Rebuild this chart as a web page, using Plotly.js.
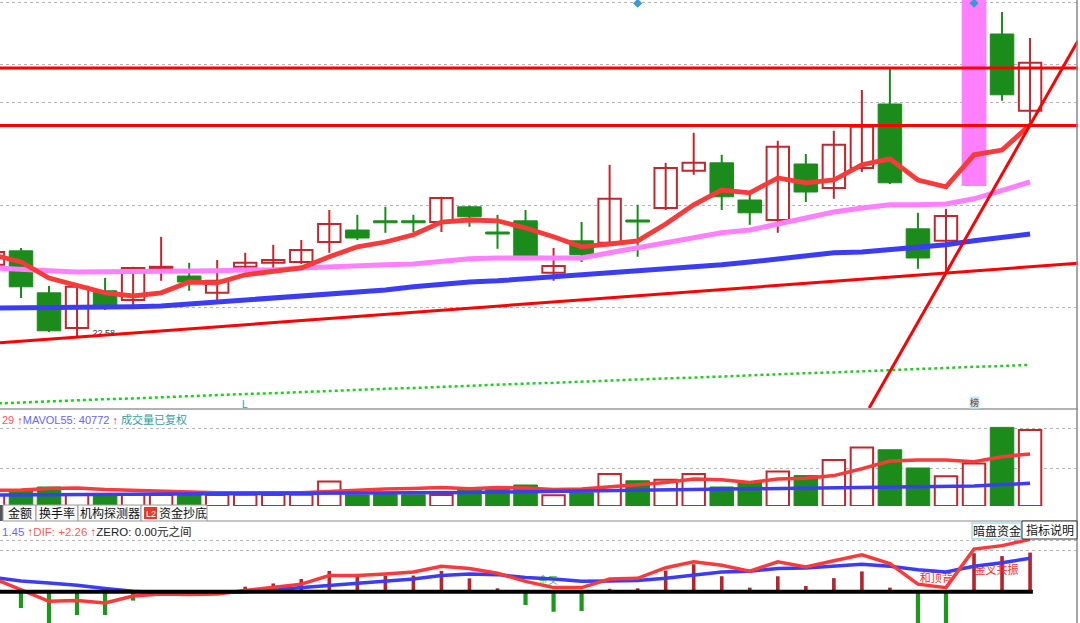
<!DOCTYPE html>
<html><head><meta charset="utf-8">
<script src="https://cdn.plot.ly/plotly-3.0.1.min.js"></script>
<style>html,body{margin:0;padding:0;background:#fff;overflow:hidden}#chart{width:1080px;height:623px}</style>
</head><body><div id="chart"></div>
<script>
// ---- candle index (first one is partly cut off on the left) ----
const idx = [-1,0,1,2,3,4,5,6,7,8,9,10,11,12,13,14,15,16,17,18,19,20,21,22,23,24,25,26,27,28,29,30,31,32,33,34,35,36];
const openP  = [24.38,24.73,23.68,22.80,23.73,23.50,24.28,24.10,23.68,24.33,24.43,24.45,24.95,25.25,25.48,25.48,25.45,25.83,25.20,25.48,24.18,24.98,24.93,25.50,25.80,26.73,26.93,26.00,25.50,26.90,26.30,26.80,28.40,25.28,24.98,26.35,30.15,28.23];
const closeP = [24.70,23.83,22.73,23.83,23.30,24.30,24.33,23.95,23.98,24.43,24.50,24.75,25.40,25.05,25.43,25.43,26.05,25.58,25.15,24.60,24.35,24.63,26.03,25.45,26.80,26.93,26.08,25.68,27.33,26.20,27.38,27.83,26.43,24.55,25.60,31.20,28.63,29.43];
const highP  = [24.80,24.80,23.85,23.85,24.05,24.33,25.08,24.43,24.50,24.68,24.88,25.00,25.75,25.63,25.83,25.63,26.08,25.85,25.63,25.75,24.80,25.45,26.88,25.88,26.93,27.68,27.13,26.13,27.48,27.15,27.73,28.75,29.30,25.68,25.78,31.20,30.70,30.05];
const lowP   = [24.30,23.55,22.70,22.58,23.25,23.35,23.98,23.73,23.45,24.20,24.20,24.40,24.68,25.00,25.18,25.20,25.20,25.33,24.78,24.55,23.98,24.45,24.88,24.58,25.75,26.63,25.75,25.38,25.18,25.95,26.03,26.70,26.40,24.28,24.18,26.35,28.48,27.88];
const limitUpIdx = [34];
const signalIdx = [22, 34];

const ma5   = [24.63,24.45,24.05,23.85,23.68,23.60,23.68,23.95,23.93,24.13,24.20,24.30,24.58,24.83,24.95,25.13,25.45,25.50,25.48,25.30,25.08,24.83,24.90,24.98,25.40,25.88,26.25,26.18,26.55,26.43,26.50,26.88,27.03,26.50,26.33,27.13,27.25,27.88];
const ma10  = [24.30,24.28,24.23,24.20,24.20,24.20,24.23,24.23,24.23,24.25,24.25,24.30,24.33,24.38,24.38,24.40,24.48,24.53,24.55,24.55,24.55,24.55,24.68,24.80,24.93,25.05,25.18,25.25,25.40,25.55,25.70,25.80,25.88,25.88,25.90,26.03,26.25,26.45];
const ma30  = [23.30,23.30,23.30,23.30,23.30,23.33,23.35,23.40,23.45,23.48,23.55,23.60,23.65,23.70,23.75,23.83,23.90,23.95,23.98,24.03,24.08,24.10,24.15,24.20,24.25,24.30,24.38,24.45,24.53,24.60,24.68,24.70,24.75,24.80,24.88,24.98,25.05,25.15];
const ma250 = [20.91,20.94,20.96,20.99,21.02,21.04,21.07,21.09,21.12,21.15,21.17,21.20,21.22,21.25,21.28,21.30,21.33,21.36,21.38,21.41,21.43,21.46,21.49,21.51,21.54,21.56,21.59,21.62,21.64,21.67,21.69,21.72,21.75,21.77,21.80,21.83,21.85,21.88];

// drawn lines (price levels and trend lines)
const levels = [29.30, 27.86];
const trendX = [-0.75, 37.71], trendY = [22.43, 24.42];
const steepX = [30.26, 37.71], steepY = [20.80, 29.98];
const lowLabel = '22.58';

// ---- volume ----
const volume  = [19800,28800,34200,20500,19800,20200,19600,20400,19900,20100,19700,20300,44300,19900,20600,20200,19800,33100,33100,37800,19400,23800,57800,45400,47300,57800,34200,42300,62100,54700,82600,105500,101200,68400,53500,76500,141500,136600];
const mavol5  = [27900,28800,31500,32400,29700,27900,27000,25200,23760,23760,23760,23760,26100,28800,30600,31500,33120,31140,33120,32400,29880,30600,34200,37800,42300,48600,47340,42300,48600,49860,54720,67140,80820,82620,82620,79560,88740,93729];
const mavol55 = [19800,20000,20300,20500,20700,20700,20900,21100,21200,21400,21600,21800,22100,22500,22900,23400,23900,24500,25100,25700,26300,27000,27600,28100,28600,29200,29800,30300,30900,31500,32200,32900,33500,34200,35000,36200,38500,40772];

// ---- MACD ----
const dif  = [0.58,0.08,-0.41,-0.38,-0.48,-0.18,-0.09,-0.12,-0.09,0.06,0.18,0.33,0.70,0.70,0.77,0.85,1.10,1.00,0.80,0.45,0.18,0.18,0.55,0.58,1.04,1.29,1.14,0.89,1.29,1.07,1.34,1.59,1.22,0.33,0.18,1.84,1.99,2.26];
const dea  = [0.62,0.47,0.38,0.28,0.14,0.02,-0.04,-0.06,-0.03,0.00,0.09,0.18,0.25,0.36,0.45,0.55,0.70,0.77,0.74,0.62,0.55,0.45,0.47,0.49,0.58,0.70,0.85,0.89,1.00,1.03,1.10,1.19,1.10,0.95,0.85,1.10,1.25,1.45];
const macd = [null,-0.70,-1.38,-1.00,-1.00,-0.38,-0.05,-0.08,-0.05,0.22,0.36,0.55,0.90,0.77,0.70,0.70,0.90,0.58,0.15,-0.57,-0.86,-0.83,0.13,0.15,0.92,1.19,0.67,0.18,0.67,0.25,0.59,0.88,0.18,-1.45,-1.45,1.66,1.54,1.69];

const tabs = ['金额','换手率','机构探测器','资金抄底'];

// ---------------------------------------------------------------
const RED = '#c1272d', GREEN = '#1b8c1b', PINK = '#ff80ff';
const FONT = 'Liberation Sans, Noto Sans CJK SC, sans-serif';
const isLimit = idx.map(i => limitUpIdx.includes(i));
const isUp = idx.map((_, k) => closeP[k] >= openP[k]);
const sel = (arr, f) => arr.map((v, k) => f(k) ? v : null);
const bodyBase = idx.map((_, k) => Math.min(openP[k], closeP[k]));
const bodyH = idx.map((_, k) => Math.max(Math.abs(closeP[k] - openP[k]), 0.04));
function wicks(f) {
  const x = [], y = [];
  idx.forEach((i, k) => { if (f(k)) { x.push(i, i, null); y.push(highP[k], lowP[k], null); } });
  return {x, y};
}
const wR = wicks(k => isUp[k] && !isLimit[k]);
const wG = wicks(k => !isUp[k] && !isLimit[k]);
const nohover = {hoverinfo: 'skip', showlegend: false};

const traces = [
  // main panel
  Object.assign({type:'scatter', mode:'lines', x: idx, y: ma250, line:{color:'#22cc22', width:2.5, dash:'dot'}}, nohover),
  Object.assign({type:'scatter', mode:'text', x:[2.95], y:[22.66], text:[lowLabel], textfont:{size:9, color:'#333', family:FONT}}, nohover),
  Object.assign({type:'scatter', mode:'lines', x: wR.x, y: wR.y, line:{color:RED, width:2}}, nohover),
  Object.assign({type:'scatter', mode:'lines', x: wG.x, y: wG.y, line:{color:GREEN, width:2}}, nohover),
  Object.assign({type:'bar', x: idx, base: sel(bodyBase, k => isUp[k] && !isLimit[k]), y: sel(bodyH, k => isUp[k] && !isLimit[k]), width:0.8,
    marker:{color:'#ffffff', line:{color:RED, width:2}}}, nohover),
  Object.assign({type:'bar', x: idx, base: sel(bodyBase, k => !isUp[k]), y: sel(bodyH, k => !isUp[k]), width:0.84,
    marker:{color:GREEN, line:{color:GREEN, width:1}}}, nohover),
  Object.assign({type:'bar', x: idx, base: sel(bodyBase, k => isLimit[k]), y: sel(bodyH, k => isLimit[k]), width:0.88,
    marker:{color:PINK, line:{color:PINK, width:0}}}, nohover),
  Object.assign({type:'scatter', mode:'lines', x: idx, y: ma30, line:{color:'#3c3cf5', width:5}}, nohover),
  Object.assign({type:'scatter', mode:'lines', x: idx, y: ma10, line:{color:PINK, width:5}}, nohover),
  Object.assign({type:'scatter', mode:'lines', x: idx, y: ma5, line:{color:'#f83a3a', width:4.8}}, nohover),
  Object.assign({type:'scatter', mode:'lines', x: trendX, y: trendY, line:{color:'#ff0000', width:3}}, nohover),
  Object.assign({type:'scatter', mode:'lines', x: steepX, y: steepY, line:{color:'#ff0000', width:3}}, nohover),
  Object.assign({type:'scatter', mode:'lines', x: [-0.75, 37.71], y: [levels[0], levels[0]], line:{color:'#ff0000', width:3}}, nohover),
  Object.assign({type:'scatter', mode:'lines', x: [-0.75, 37.71], y: [levels[1], levels[1]], line:{color:'#ff0000', width:3}}, nohover),
  Object.assign({type:'scatter', mode:'markers', x: signalIdx, y: signalIdx.map(() => 30.92), marker:{symbol:'diamond', size:7, color:'#3a9ad9'}}, nohover),
  // volume panel
  Object.assign({type:'bar', x: idx, y: sel(volume, k => isUp[k]), yaxis:'y2', width:0.8,
    marker:{color:'#ffffff', line:{color:RED, width:2}}}, nohover),
  Object.assign({type:'bar', x: idx, y: sel(volume, k => !isUp[k]), yaxis:'y2', width:0.84,
    marker:{color:GREEN, line:{color:GREEN, width:1}}}, nohover),
  Object.assign({type:'scatter', mode:'lines', x: idx, y: mavol5, yaxis:'y2', line:{color:'#f83a3a', width:3.5}}, nohover),
  Object.assign({type:'scatter', mode:'lines', x: idx, y: mavol55, yaxis:'y2', line:{color:'#3c3cf5', width:3.5}}, nohover),
  // MACD panel
  Object.assign({type:'bar', x: idx, y: macd.map(v => v !== null && v >= 0 ? v : null), yaxis:'y3', width:0.13,
    marker:{color:'#b8242c', line:{width:0}}}, nohover),
  Object.assign({type:'bar', x: idx, y: macd.map(v => v !== null && v < 0 ? v : null), yaxis:'y3', width:0.15,
    marker:{color:'#1a9a1a', line:{width:0}}}, nohover),
  Object.assign({type:'scatter', mode:'text', x:[32.65, 34.8], y:[0.55, 0.90], text:['和顶背','金叉共振'], yaxis:'y3',
    textfont:{size:11, color:'#ff2a2a', family:FONT}}, nohover),
  Object.assign({type:'scatter', mode:'text', x:[18.8], y:[0.45], text:['金叉'], yaxis:'y3',
    textfont:{size:10, color:'#3ccc3c', family:FONT}}, nohover),
  Object.assign({type:'scatter', mode:'lines', x: idx, y: dea, yaxis:'y3', line:{color:'#3c3cf5', width:3.5}}, nohover),
  Object.assign({type:'scatter', mode:'lines', x: idx, y: dif, yaxis:'y3', line:{color:'#f83a3a', width:3.5}}, nohover)
];

const H = 623, W = 1078;
const py = p => 1 - p / H;   // pixel row -> paper y
const px = p => p / W;       // pixel column -> paper x

const shapes = [
  {type:'line', xref:'x', yref:'y3', x0:-0.75, x1:36.1, y0:0, y1:0, line:{color:'#000', width:4}, layer:'above'},
  {type:'line', xref:'paper', yref:'paper', x0:0, x1:1, y0:py(409), y1:py(409), line:{color:'#9a9a9a', width:1.5}},
  {type:'line', xref:'paper', yref:'paper', x0:px(1077), x1:px(1077), y0:py(623), y1:1, line:{color:'#8a8a8a', width:1.5}},
  {type:'line', xref:'paper', yref:'paper', x0:px(207), x1:1, y0:py(521), y1:py(521), line:{color:'#8a8a8a', width:1}},
  {type:'rect', xref:'paper', yref:'paper', x0:0, x1:px(3), y0:py(521), y1:py(505), fillcolor:'#555', line:{width:0}},
  {type:'rect', xref:'paper', yref:'paper', x0:px(3), x1:px(36), y0:py(521), y1:py(505), fillcolor:'#f8f8f8', line:{color:'#9a9a9a', width:1}},
  {type:'rect', xref:'paper', yref:'paper', x0:px(36), x1:px(78), y0:py(521), y1:py(505), fillcolor:'#f8f8f8', line:{color:'#9a9a9a', width:1}},
  {type:'rect', xref:'paper', yref:'paper', x0:px(78), x1:px(141), y0:py(521), y1:py(505), fillcolor:'#f8f8f8', line:{color:'#9a9a9a', width:1}},
  {type:'rect', xref:'paper', yref:'paper', x0:px(141), x1:px(207), y0:py(521), y1:py(505), fillcolor:'#f8f8f8', line:{color:'#9a9a9a', width:1}},
  {type:'rect', xref:'paper', yref:'paper', x0:px(144), x1:px(157), y0:py(519), y1:py(507), fillcolor:'#e8392f', line:{width:0}},
  {type:'rect', xref:'paper', yref:'paper', x0:px(972), x1:px(1021), y0:py(539), y1:py(523), fillcolor:'#fff', line:{color:'#a6e0ea', width:1.5}},
  {type:'rect', xref:'paper', yref:'paper', x0:px(1022), x1:px(1077), y0:py(539), y1:py(521), fillcolor:'#fff', line:{color:'#333', width:1}}
];

const ann = (x, y, text, size, color, xanchor) => ({xref:'paper', yref:'paper', x, y, text, showarrow:false,
  xanchor: xanchor || 'center', yanchor:'middle', font:{size, color, family:FONT}});
const annotations = [
  ann(0, py(419), '<span style="color:#ff5555">29 </span><span style="color:#ff2020">↑</span><span style="color:#6464ff">MAVOL55: 40772 </span><span style="color:#ff2020">↑ </span><span style="color:#33a0a0">成交量已复权</span>', 11, '#333', 'left'),
  ann(0, py(531), '<span style="color:#6a6aff">1.45 </span><span style="color:#ff2020">↑</span><span style="color:#ff5a5a">DIF: +2.26 </span><span style="color:#ff2020">↑</span><span style="color:#222">ZERO: 0.00元之间</span>', 11.5, '#333', 'left'),
  ann(px(19.5), py(513.5), tabs[0], 12, '#111'),
  ann(px(57), py(513.5), tabs[1], 12, '#111'),
  ann(px(109.5), py(513.5), tabs[2], 12, '#111'),
  ann(px(150.5), py(513.5), 'L2', 9, '#fff'),
  ann(px(183), py(513.5), tabs[3], 12, '#111'),
  ann(px(996.5), py(531), '暗盘资金', 12, '#111'),
  ann(px(1049.5), py(530), '指标说明', 12, '#111'),
  {xref:'x', yref:'y', x:8, y:20.9, text:'L', showarrow:false, font:{size:10, color:'#2a9aa8', family:FONT}},
  {xref:'x', yref:'y', x:34.03, y:20.95, text:'榜', showarrow:false, bgcolor:'#b8f0f8', borderpad:0, font:{size:9, color:'#8b1a1a', family:FONT}}
];

const grid = {showgrid:true, gridcolor:'#b4b4b4', griddash:'dot', gridwidth:1, zeroline:false, showline:false,
  showticklabels:false, ticks:'', fixedrange:true};
const layout = {
  width:1080, height:623, margin:{l:0, r:2, t:0, b:0, pad:0},
  paper_bgcolor:'#fff', plot_bgcolor:'#fff', barmode:'overlay', showlegend:false,
  font:{family:FONT},
  xaxis:{range:[-0.749, 37.71], visible:false, fixedrange:true},
  yaxis:Object.assign({domain:[py(408), 1], range:[20.8, 31.0], tickvals:[30.95, 29.4, 28.45, 25.875, 23.325]}, grid),
  yaxis2:Object.assign({domain:[py(506), py(410)], anchor:'x', range:[0, 172800], tickvals:[140400, 68400]}, grid),
  yaxis3:Object.assign({domain:[0, py(521)], anchor:'x', range:[-1.345, 3.052], tickvals:[2.21, 1.76, -1.33]}, grid),
  shapes, annotations
};
Plotly.newPlot('chart', traces, layout, {displayModeBar:false, staticPlot:true});
</script></body></html>
